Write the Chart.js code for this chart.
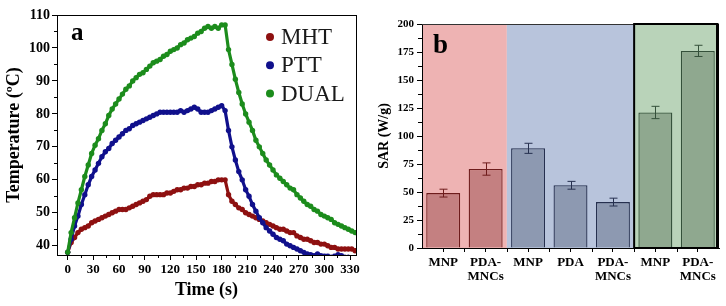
<!DOCTYPE html>
<html>
<head>
<meta charset="utf-8">
<script src="https://cdn.jsdelivr.net/npm/chart.js@4.4.0/dist/chart.umd.min.js"></script>
<style>
  body { margin: 0; background: #fff; width: 726px; height: 306px; overflow: hidden; position: relative; }
  #panelA { position: absolute; left: 0; top: 0; }
  #panelB { position: absolute; left: 366px; top: 0; }
</style>
</head>
<body>
<canvas id="panelA" width="366" height="306"></canvas>
<canvas id="panelB" width="360" height="306"></canvas>
<script>
// ---------- panel a : heating / cooling curves ----------
const timeS = [
  0, 4, 8, 12, 16, 20, 24, 28, 32, 36,
  40, 44, 48, 52, 56, 60, 64, 68, 72, 76,
  80, 84, 88, 92, 96, 100, 104, 108, 112, 116,
  120, 124, 128, 132, 136, 140, 144, 148, 152, 156,
  160, 164, 168, 172, 176, 180, 184, 188, 192, 196,
  200, 204, 208, 212, 216, 220, 224, 228, 232, 236,
  240, 244, 248, 252, 256, 260, 264, 268, 272, 276,
  280, 284, 288, 292, 296, 300, 304, 308, 312, 316,
  320, 324, 328, 332, 336
];
const tempMHT = [
  38, 41, 42.5, 44, 45, 45.5, 46, 47, 47.5, 48,
  48.5, 49, 49.5, 50, 50.5, 51, 51, 51, 51.5, 52,
  52.5, 53, 53.5, 54, 55, 55.5, 55.5, 55.5, 55.5, 56,
  56, 56.5, 57, 57, 57.5, 57.5, 58, 58, 58.5, 58.5,
  59, 59, 59.5, 59.5, 60, 60, 60, 55.5, 53.5, 52.5,
  51.5, 51, 50, 49.5, 49, 48.5, 48, 47.5, 47, 46.5,
  46, 45.5, 45, 45, 44.5, 44, 44, 43, 42.5, 42,
  42, 41.5, 41, 41, 40.5, 40.5, 40, 39.5, 39.5, 39,
  39, 39, 39, 39, 38.5
];
const tempPTT = [
  38, 42, 46, 49, 52.5, 55.5, 58.5, 61, 63, 65,
  67, 68.5, 69.5, 71, 72, 73, 74, 75, 75.5, 76.5,
  77, 77.5, 78, 78.5, 79, 79.5, 80, 80.5, 80.5, 80.5,
  80.5, 80.5, 80.5, 81, 80.5, 81, 81.5, 82, 81.5, 80.5,
  80.5, 80.5, 81, 81.5, 82, 82.5, 81, 75, 70, 66,
  62.5, 60, 57, 55, 52.5, 50.5, 48.5, 47, 45.5, 44.5,
  43.5, 42.5, 42, 41.5, 40.5, 40, 39.5, 39, 38.5, 38,
  37.5, 37.3, 37, 37.5, 37, 36.8, 36.8, 36.5, 36.8, 37.3,
  37, 36.5, 36.5, 36.3, 36
];
const tempDUAL = [
  38, 44, 48.5, 53, 57, 61, 64.5, 68, 70.5, 72.5,
  75, 77, 79.5, 81.5, 83, 84.5, 86, 87.5, 88.5, 90,
  91, 92, 92.5, 93.5, 94.5, 95.5, 96, 96.5, 97.5, 98,
  99, 99.5, 100, 101, 101.5, 102.5, 103, 103.5, 104.5, 105,
  106, 106.5, 106, 106.5, 106, 107, 107, 99.5, 95, 90.5,
  86.5, 83, 80, 77.5, 75, 72, 70, 68, 66, 64.5,
  63, 61.5, 60.5, 59.5, 58.5, 57.5, 57, 55.5, 54.5, 53.5,
  52.5, 52, 51, 50.5, 49.5, 49, 48.5, 48, 47, 46.5,
  46, 45.5, 45, 44.5, 44
];
const seriesNames = ['MHT', 'PTT', 'DUAL'];
const timeTicks = [0, 30, 60, 90, 120, 150, 180, 210, 240, 270, 300, 330];
const tempTicks = [40, 50, 60, 70, 80, 90, 100, 110];

// ---------- panel b : SAR bars ----------
const sarLabels = ['MNP', ['PDA-', 'MNCs'], 'MNP', 'PDA', ['PDA-', 'MNCs'], 'MNP', ['PDA-', 'MNCs']];
const sarValues = [49, 70.5, 89, 56, 41, 121, 176];
const sarErrors = [3.5, 5.5, 4.5, 3.5, 3.5, 5.5, 5];
const sarGroup = [0, 0, 1, 1, 1, 2, 2];
const sarTicks = [0, 25, 50, 75, 100, 125, 150, 175, 200];

const SERIF = "'Liberation Serif', 'DejaVu Serif', serif";
const groupStyle = [
  { area: '#eeb3b3', bar: '#c48081', line: '#6e1c1c' },
  { area: '#b8c4dc', bar: '#8d99b1', line: '#26304f' },
  { area: '#b9d3b9', bar: '#8fa88f', line: '#34503a' }
];
const pointColors = ['#8e1010', '#10108c', '#1c8c1c'];

function toPoints(ys) {
  return timeS.map((t, i) => ({ x: t, y: ys[i] }));
}

// small ticks between the labelled ones
const minorTicks = {
  id: 'minorTicks',
  afterDraw(chart, args, opts) {
    const ctx = chart.ctx;
    ctx.save();
    ctx.strokeStyle = '#000';
    ctx.lineWidth = 1;
    (opts.axes || []).forEach(id => {
      const sc = chart.scales[id];
      const vals = sc.ticks.map(t => t.value);
      const len = opts.len || 3;
      for (let i = 0; i < vals.length - 1; i++) {
        const p = Math.round(sc.getPixelForValue((vals[i] + vals[i + 1]) / 2)) + 0.5;
        ctx.beginPath();
        if (id === 'x') { ctx.moveTo(p, sc.top); ctx.lineTo(p, sc.top + len); }
        else { ctx.moveTo(sc.right, p); ctx.lineTo(sc.right - len, p); }
        ctx.stroke();
      }
    });
    ctx.restore();
  }
};

const panelLetter = {
  id: 'panelLetter',
  afterDraw(chart, args, opts) {
    const ctx = chart.ctx, a = chart.chartArea;
    ctx.save();
    ctx.font = 'bold ' + opts.size + 'px ' + SERIF;
    ctx.fillStyle = '#000';
    ctx.textBaseline = 'alphabetic';
    ctx.fillText(opts.text, a.left + opts.dx, a.top + opts.dy);
    ctx.restore();
  }
};

const frameA = {
  id: 'frameA',
  afterDraw(chart) {
    const ctx = chart.ctx, a = chart.chartArea;
    ctx.save();
    ctx.strokeStyle = '#000';
    ctx.lineWidth = 1;
    ctx.strokeRect(Math.round(a.left) + 0.5, Math.round(a.top) + 0.5,
      Math.round(a.right - a.left), Math.round(a.bottom - a.top));
    ctx.restore();
  }
};

const innerLegend = {
  id: 'innerLegend',
  afterDraw(chart) {
    const ctx = chart.ctx, a = chart.chartArea;
    ctx.save();
    ctx.font = '23px ' + SERIF;
    ctx.textBaseline = 'middle';
    chart.data.datasets.forEach((ds, i) => {
      const y = a.top + 22 + i * 28.3;
      ctx.fillStyle = ds.backgroundColor;
      ctx.beginPath();
      ctx.arc(a.right - 86, y, 4, 0, Math.PI * 2);
      ctx.fill();
      ctx.fillStyle = '#1a1a1a';
      ctx.fillText(ds.label, a.right - 75, y + 1);
    });
    ctx.restore();
  }
};

new Chart(document.getElementById('panelA'), {
  type: 'scatter',
  data: {
    datasets: [tempMHT, tempPTT, tempDUAL].map((ys, i) => ({
      label: seriesNames[i],
      data: toPoints(ys),
      backgroundColor: pointColors[i],
      borderColor: pointColors[i],
      showLine: true,
      borderWidth: 3.2,
      pointBorderWidth: 0,
      pointRadius: 2.7,
      order: 3 - i
    }))
  },
  options: {
    responsive: false,
    animation: false,
    layout: { padding: { top: 15, right: 10, left: 0, bottom: 0 } },
    plugins: {
      legend: { display: false },
      tooltip: { enabled: false },
      minorTicks: { axes: ['x', 'y'] },
      panelLetter: { text: 'a', size: 25, dx: 14, dy: 25 }
    },
    scales: {
      x: {
        type: 'linear', min: -12.5, max: 337,
        afterBuildTicks: s => { s.ticks = timeTicks.map(v => ({ value: v })); },
        afterFit: s => { s.height = 51; },
        ticks: { font: { family: SERIF, size: 13, weight: 'bold' }, color: '#000', padding: 2, maxRotation: 0, autoSkip: false },
        grid: { drawOnChartArea: false, tickLength: 5, color: '#000' },
        border: { color: '#000' },
        title: { display: true, text: 'Time (s)', color: '#000', font: { family: SERIF, size: 18, weight: 'bold' }, padding: { top: 0, bottom: 5 } }
      },
      y: {
        type: 'linear', min: 37.2, max: 110,
        afterBuildTicks: s => { s.ticks = tempTicks.map(v => ({ value: v })); },
        afterFit: s => { s.width = 57; },
        ticks: { font: { family: SERIF, size: 14, weight: 'bold' }, color: '#000', padding: 2 },
        grid: { drawOnChartArea: false, tickLength: 5, color: '#000' },
        border: { color: '#000' },
        title: { display: true, text: 'Temperature (ºC)', color: '#000', font: { family: SERIF, size: 18, weight: 'bold' }, padding: { top: 4, bottom: 3 } }
      }
    }
  },
  plugins: [minorTicks, panelLetter, frameA, innerLegend]
});

// coloured blocks behind the bars
const groupAreas = {
  id: 'groupAreas',
  beforeDraw(chart) {
    const ctx = chart.ctx, a = chart.chartArea, x = chart.scales.x;
    const half = (x.getPixelForValue(1) - x.getPixelForValue(0)) / 2;
    ctx.save();
    groupStyle.forEach((st, g) => {
      const idx = sarGroup.map((v, i) => v === g ? i : -1).filter(i => i >= 0);
      const x0 = g === 0 ? a.left : x.getPixelForValue(idx[0]) - half;
      const x1 = g === groupStyle.length - 1 ? a.right : x.getPixelForValue(idx[idx.length - 1]) + half;
      ctx.fillStyle = st.area;
      ctx.fillRect(x0, a.top, x1 - x0, a.bottom - a.top);
    });
    ctx.restore();
  },
  afterDraw(chart) {
    const ctx = chart.ctx, a = chart.chartArea, x = chart.scales.x;
    const half = (x.getPixelForValue(1) - x.getPixelForValue(0)) / 2;
    const first = sarGroup.indexOf(2);
    const x0 = x.getPixelForValue(first) - half;
    ctx.save();
    ctx.strokeStyle = '#333';
    ctx.lineWidth = 1;
    ctx.beginPath();
    ctx.moveTo(a.left, Math.round(a.top) + 0.5);
    ctx.lineTo(a.right, Math.round(a.top) + 0.5);
    ctx.stroke();
    ctx.strokeStyle = '#000';
    ctx.lineWidth = 2;
    ctx.strokeRect(x0, a.top, a.right - x0 - 1.5, a.bottom - a.top);
    ctx.lineWidth = 3;
    ctx.beginPath();
    ctx.moveTo(a.right - 1.5, a.top);
    ctx.lineTo(a.right - 1.5, a.bottom);
    ctx.stroke();
    ctx.restore();
  }
};

const errorBars = {
  id: 'errorBars',
  afterDatasetsDraw(chart) {
    const ctx = chart.ctx, y = chart.scales.y;
    const meta = chart.getDatasetMeta(0);
    ctx.save();
    ctx.lineWidth = 1;
    meta.data.forEach((bar, i) => {
      const top = y.getPixelForValue(sarValues[i] + sarErrors[i]);
      const bot = y.getPixelForValue(sarValues[i] - sarErrors[i]);
      const cx = Math.round(bar.x) + 0.5;
      ctx.strokeStyle = groupStyle[sarGroup[i]].line;
      ctx.beginPath();
      ctx.moveTo(cx, top); ctx.lineTo(cx, bot);
      ctx.moveTo(cx - 4, top); ctx.lineTo(cx + 4, top);
      ctx.moveTo(cx - 4, bot); ctx.lineTo(cx + 4, bot);
      ctx.stroke();
    });
    ctx.restore();
  }
};

new Chart(document.getElementById('panelB'), {
  type: 'bar',
  data: {
    labels: sarLabels,
    datasets: [{
      data: sarValues,
      backgroundColor: sarGroup.map(g => groupStyle[g].bar),
      borderColor: sarGroup.map(g => groupStyle[g].line),
      borderWidth: 1.3,
      barPercentage: 0.8,
      categoryPercentage: 1
    }]
  },
  options: {
    responsive: false,
    animation: false,
    layout: { padding: { top: 24, right: 7, left: 0, bottom: 0 } },
    plugins: {
      legend: { display: false },
      tooltip: { enabled: false },
      minorTicks: { axes: ['x', 'y'], len: 4 },
      panelLetter: { text: 'b', size: 27, dx: 11, dy: 29 }
    },
    scales: {
      x: {
        afterFit: s => { s.height = 58; },
        ticks: { font: { family: SERIF, size: 13, weight: 'bold', lineHeight: 1.1 }, color: '#000', padding: 3, maxRotation: 0, autoSkip: false },
        grid: { drawOnChartArea: false, tickLength: 4, color: '#000', offset: false },
        border: { color: '#000' }
      },
      y: {
        min: 0, max: 200,
        afterBuildTicks: s => { s.ticks = sarTicks.map(v => ({ value: v })); },
        afterFit: s => { s.width = 56; },
        ticks: { font: { family: SERIF, size: 11, weight: 'bold' }, color: '#000', padding: 3 },
        grid: { drawOnChartArea: false, tickLength: 5, color: '#000' },
        border: { color: '#000' },
        title: { display: true, text: 'SAR (W/g)', color: '#000', font: { family: SERIF, size: 14, weight: 'bold' }, padding: { top: 10, bottom: 3 } }
      }
    }
  },
  plugins: [groupAreas, errorBars, minorTicks, panelLetter]
});
</script>
</body>
</html>
